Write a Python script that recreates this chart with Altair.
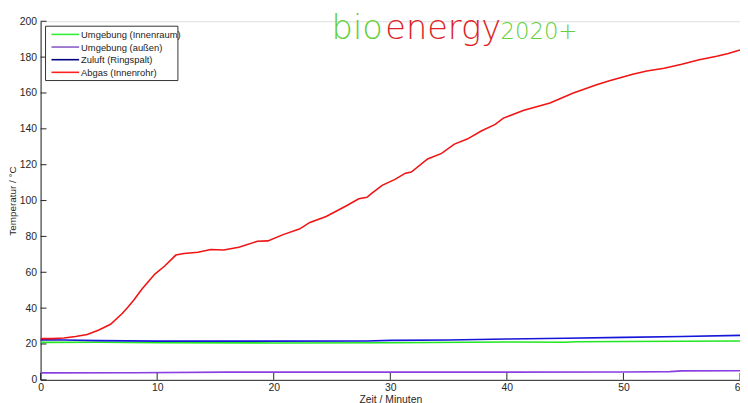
import altair as alt
import pandas as pd

# ---- data ----
series_names = ["Umgebung (Innenraum)", "Umgebung (außen)", "Zuluft (Ringspalt)", "Abgas (Innenrohr)"]
line_colors = ["#22e622", "#8a3fe0", "#1616d8", "#f01414"]
legend_colors = ["#33ee33", "#8a5cc8", "#000080", "#ff2020"]

t_innen = [0, 5, 10, 20, 30, 40, 45, 46, 50, 55, 60]
T_innen = [20.9, 21.0, 20.7, 20.6, 20.7, 21.1, 21.0, 21.3, 21.4, 21.5, 21.7]

t_aussen = [0, 8, 16, 30, 40, 50, 54, 55, 60]
T_aussen = [3.9, 4.0, 4.3, 4.3, 4.3, 4.4, 4.6, 5.0, 5.1]

t_zuluft = [0, 2, 5, 10, 20, 28, 30, 35, 40, 45, 50, 55, 60]
T_zuluft = [22.3, 22.2, 21.9, 21.6, 21.6, 21.7, 22.0, 22.2, 22.8, 23.2, 23.7, 24.2, 24.8]

t_abgas = [0, 1, 2, 3, 4, 5, 6, 7, 7.5, 8, 8.7, 9.8, 10.65, 11.6, 12.3, 13.5, 14.6, 15.7,
           17, 18.6, 19.5, 20.8, 22.2, 23.1, 24.5, 26.2, 27.3, 28.0, 28.4, 29.3, 30.4,
           31.3, 31.8, 33.2, 34.4, 35.5, 36.6, 37.8, 39.0, 39.7, 41.4, 43.7, 45.7, 47.7,
           48.8, 50.8, 52, 53.5, 55, 56.5, 58, 59, 60]
T_abgas = [23.0, 23.0, 23.3, 24.2, 25.3, 27.8, 31.0, 37.0, 40.6, 44.5, 50.7, 59.0, 63.5, 69.6,
           70.5, 71.2, 72.7, 72.4, 74.0, 77.3, 77.5, 81.0, 84.1, 87.8, 91.1, 97.0, 101.0,
           101.8, 104.0, 108.5, 111.8, 115.3, 115.9, 123.2, 126.3, 131.5, 134.3, 138.8,
           142.5, 146.0, 150.2, 154.4, 160.0, 164.6, 166.8, 170.4, 172.3, 173.8, 176.0,
           178.5, 180.5, 182.0, 184.0]

x_ticks = [0, 10, 20, 30, 40, 50, 60]
y_ticks = [0, 20, 40, 60, 80, 100, 120, 140, 160, 180, 200]

logo_words = ["bio", "energy", "2020+"]

# ---- build table ----
rows = []
for name, ts, Ts in zip(series_names,
                        [t_innen, t_aussen, t_zuluft, t_abgas],
                        [T_innen, T_aussen, T_zuluft, T_abgas]):
    for i, (a, b) in enumerate(zip(ts, Ts)):
        rows.append({"series": name, "t": a, "T": b, "i": i})
df = pd.DataFrame(rows)

W, H = 708, 363
FONT = "Liberation Sans Narrow, Liberation Sans, Arial"
AXC = "#262626"

x_scale = alt.Scale(domain=[0, 60], nice=False, zero=False)
y_scale = alt.Scale(domain=[0, 200], nice=False)
x_axis = alt.Axis(values=x_ticks, format="d", grid=False, ticks=False, tickSize=0,
                  labelPadding=3, titlePadding=1, labelFontSize=10.5,
                  titleFontSize=10.5, titleFontWeight="normal", labelFont=FONT,
                  titleFont=FONT, domainColor=AXC, labelColor=AXC,
                  titleColor=AXC, labelFlush=False, labelOverlap=False)
y_axis = alt.Axis(values=y_ticks, format="d", grid=False, ticks=False, tickSize=0,
                  labelPadding=4, titleX=-23, labelFontSize=10.5,
                  titleFontSize=10, titleFontWeight="normal", labelFont=FONT,
                  titleFont="Liberation Sans, Arial", domainColor=AXC,
                  labelColor=AXC, titleColor=AXC, labelFlush=False,
                  labelOverlap=False)

x_enc = alt.X("t:Q", title="Zeit / Minuten", scale=x_scale, axis=x_axis)
y_enc = alt.Y("T:Q", title="Temperatur / °C", scale=y_scale, axis=y_axis)

lines = alt.Chart(df).mark_line(strokeWidth=1.6).encode(
    x=x_enc, y=y_enc,
    color=alt.Color("series:N", scale=alt.Scale(domain=series_names, range=line_colors),
                    legend=None),
    order="i:Q",
)

ytick_layer = alt.Chart(pd.DataFrame({"T": y_ticks})).mark_rule(color=AXC, strokeWidth=1).encode(
    y=y_enc, x=alt.value(0), x2=alt.value(6))
xtick_layer = alt.Chart(pd.DataFrame({"t": x_ticks})).mark_rule(color=AXC, strokeWidth=1).encode(
    x=x_enc, y=alt.value(H), y2=alt.value(H - 7))

dummy = pd.DataFrame({"a": [0]})
layers = [lines, ytick_layer, xtick_layer]

# legend box
layers.append(alt.Chart(dummy).mark_rect(fill="white", stroke="#333333", strokeWidth=1).encode(
    x=alt.value(5), x2=alt.value(139), y=alt.value(5), y2=alt.value(60)))
for k, (name, col) in enumerate(zip(series_names, legend_colors)):
    yy = 13.3 + 12.8 * k
    layers.append(alt.Chart(dummy).mark_rule(color=col, strokeWidth=1.6).encode(
        x=alt.value(11), x2=alt.value(39), y=alt.value(yy)))
    layers.append(alt.Chart(dummy).mark_text(align="left", baseline="middle", fontSize=9.5,
                                             font="Liberation Sans, Arial", color="#222222").encode(
        x=alt.value(41), y=alt.value(yy + 0.5), text=alt.value(name)))

# logo (word centres)
logo_cx = [361.5, 448.5, 545.5]
logo_col = ["#66cf3a", "#dc1f28", "#66cf3a"]
logo_fs = [34, 34, 23]
for word, px, col, fs in zip(logo_words, logo_cx, logo_col, logo_fs):
    layers.append(alt.Chart(dummy).mark_text(align="center", baseline="alphabetic", fontSize=fs,
                                             font="DejaVu Sans", fontWeight=300, color=col).encode(
        x=alt.value(px - 41), y=alt.value(37 - 19), text=alt.value(word)))

chart = alt.layer(*layers).properties(
    width=W, height=H,
    autosize=alt.AutoSizeParams(type="none"),
    padding={"left": 33, "top": 11, "right": 0, "bottom": 21},
).configure_view(stroke=None).configure(background="white")

chart.save("out.html", embed_options={"renderer": "svg", "actions": False})
